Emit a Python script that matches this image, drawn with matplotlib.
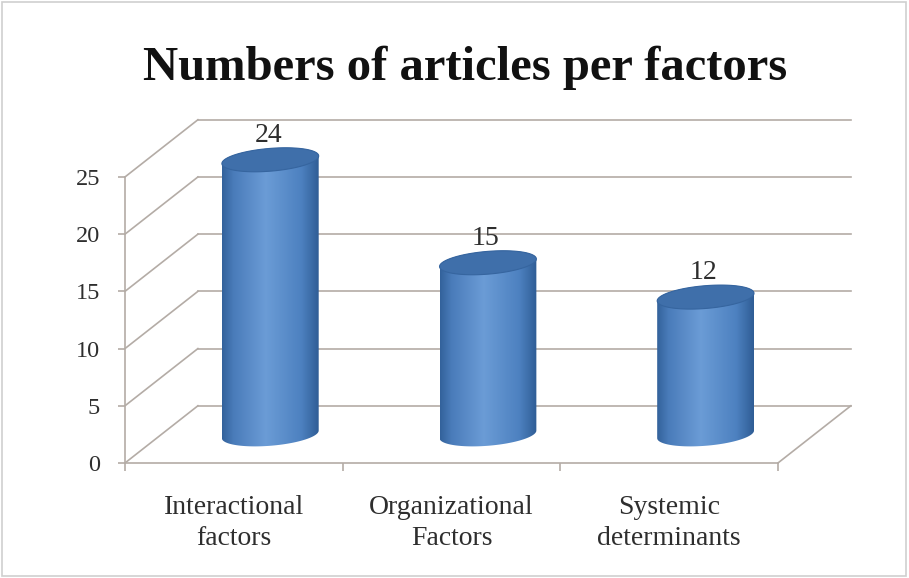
import numpy as np
import matplotlib
matplotlib.use('Agg')
import matplotlib.pyplot as plt
from matplotlib import patches
from matplotlib.colors import LinearSegmentedColormap

title = 'Numbers of articles per factors'
categories = ['Interactional\nfactors', 'Organizational\nFactors', 'Systemic\ndeterminants']
counts = [24, 15, 12]
y_ticks = [0, 5, 10, 15, 20, 25]

# oblique offset of the back wall (x in category units, y in value units)
depth_x = 0.335
depth_y = 5.0

grid_color = '#b4aca6'
text_color = '#2e2e2e'
font = 'Liberation Serif'

fig = plt.figure(figsize=(9.09, 5.78), dpi=100)
ax = fig.add_axes([59.7 / 909, 80.7 / 578, 827.1 / 909, 389 / 578])

# front axes: left spine is the value axis, bottom spine is the floor edge
for side in ['top', 'right']:
    ax.spines[side].set_visible(False)
ax.spines['left'].set_position(('data', 0))
ax.spines['left'].set_bounds(0, y_ticks[-1])
ax.spines['bottom'].set_position(('data', 0))
ax.spines['bottom'].set_bounds(0, len(categories))
for side in ['left', 'bottom']:
    ax.spines[side].set_color(grid_color)
    ax.spines[side].set_linewidth(1.2)

ax.set_yticks(y_ticks)
ax.set_yticklabels([str(t) for t in y_ticks])
ax.tick_params(axis='y', direction='out', length=5, width=1.2, color=grid_color,
               labelsize=17.5, labelcolor=text_color, pad=13)
ax.set_xticks(range(len(categories) + 1))
ax.set_xticklabels([''] * (len(categories) + 1))
ax.tick_params(axis='x', which='major', direction='out', length=6, width=1.2, color=grid_color)
ax.set_xticks([i + 0.5 for i in range(len(categories))], minor=True)
ax.set_xticklabels(categories, minor=True)
ax.tick_params(axis='x', which='minor', length=0, labelsize=20, labelcolor=text_color, pad=23)
for lbl in ax.get_xticklabels(minor=True) + ax.get_yticklabels():
    lbl.set_fontfamily(font)
for lbl in ax.get_xticklabels(minor=True):
    lbl.set_linespacing(1.3)

# back wall gridlines, side wall diagonals and floor edge
n = len(categories)
for v in y_ticks:
    ax.plot([depth_x, n + depth_x], [v + depth_y, v + depth_y], color=grid_color, lw=1.2, zorder=1)
    ax.plot([0, depth_x], [v, v + depth_y], color=grid_color, lw=1.2, zorder=1)
ax.plot([n, n + depth_x], [0, depth_y], color=grid_color, lw=1.2, zorder=1)

# cylinders
body_cmap = LinearSegmentedColormap.from_list(
    'cyl', [(0.0, '#33629b'), (0.12, '#4a7cba'), (0.45, '#6b9cd6'),
            (0.82, '#4d81c0'), (1.0, '#2f5d95')])
rx = 0.211
frac = 0.21
hx, hy = frac * depth_x, frac * depth_y
t0 = np.arctan2(hx, rx)


def ellipse_pts(cx, cy, t):
    return np.column_stack([cx + rx * np.cos(t) + hx * np.sin(t), cy + hy * np.sin(t)])


base = depth_y / 2
for i, v in enumerate(counts):
    cx = i + 0.5 + depth_x / 2
    top = base + v
    lower = ellipse_pts(cx, base, np.linspace(t0 + np.pi, t0 + 2 * np.pi, 60))
    upper = ellipse_pts(cx, top, np.linspace(t0, t0 + np.pi, 60))
    outline = np.vstack([lower, upper, lower[:1]])
    body = patches.Polygon(outline, closed=True, facecolor='none', edgecolor='none')
    ax.add_patch(body)
    half_w = np.hypot(rx, hx)
    grad = np.linspace(0, 1, 256)[None, :]
    im = ax.imshow(grad, cmap=body_cmap, aspect='auto', interpolation='bilinear',
                   extent=[cx - half_w, cx + half_w, base - hy - 0.2, top + hy + 0.2], zorder=2)
    im.set_clip_path(body)

    cap = patches.Polygon(ellipse_pts(cx, top, np.linspace(0, 2 * np.pi, 120)), closed=True,
                          facecolor='#3f6faa', edgecolor='#36659f', lw=0.8, zorder=3)
    ax.add_patch(cap)

    ax.text(cx - 0.01, top + hy + 0.5, str(v), ha='center', va='baseline',
            fontsize=20, color=text_color, fontfamily=font, zorder=4)

ax.set_xlim(-0.3, 3.5)
ax.set_ylim(-3, 31)
ax.set_facecolor('none')

fig.text(0.512, (578 - 80) / 578, title, ha='center', va='baseline',
         fontsize=35, fontweight='bold', fontfamily=font, color='#111111')

fig.patches.append(patches.Rectangle((0.002, 0.003), 0.995, 0.993, transform=fig.transFigure,
                                     fill=False, edgecolor='#cfcfcf', lw=1.2))

fig.savefig('out.png', dpi=100, facecolor='white')
